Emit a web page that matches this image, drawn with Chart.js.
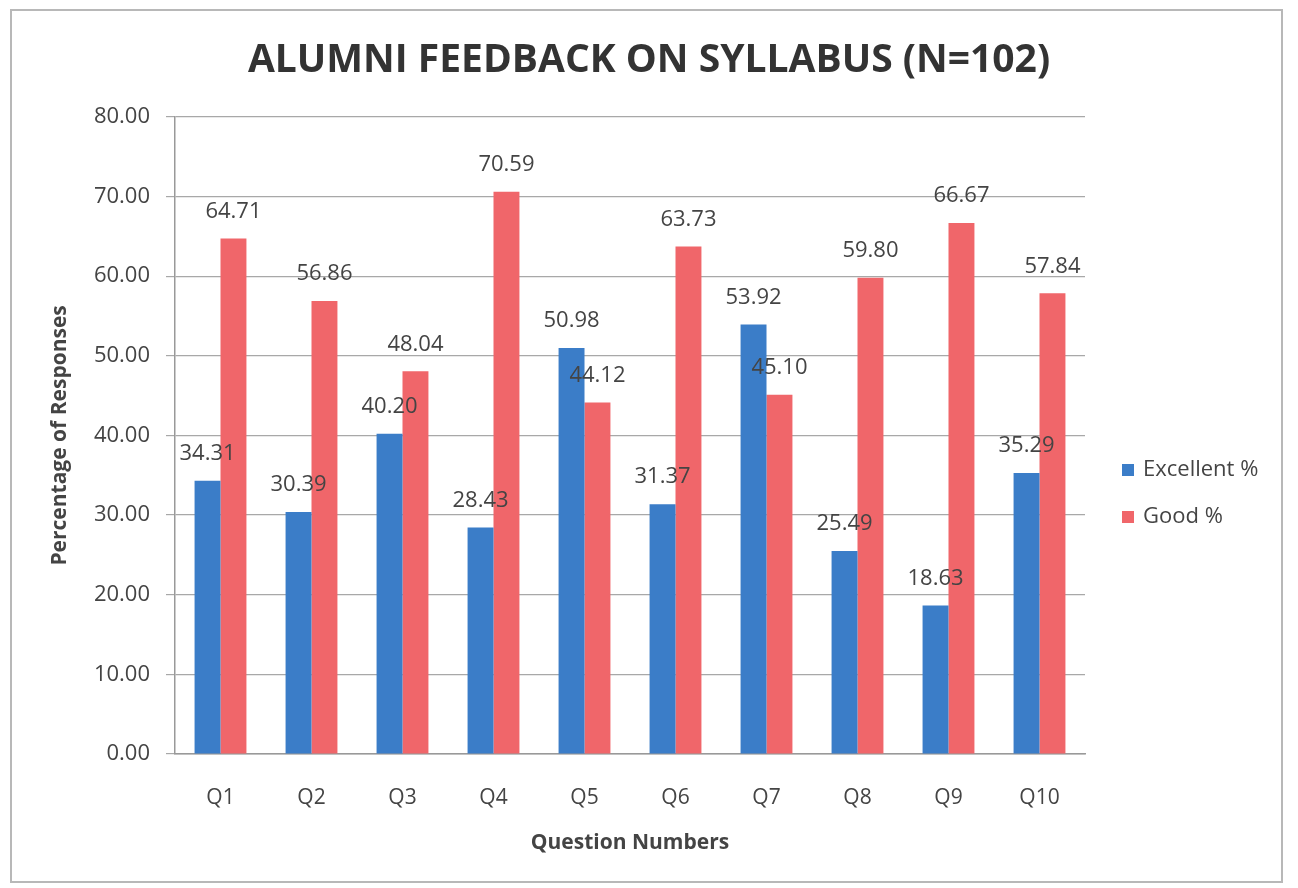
<!DOCTYPE html>
<html lang="en">
<head>
<meta charset="UTF-8">
<title>Alumni Feedback on Syllabus</title>
<script src="https://cdn.jsdelivr.net/npm/chart.js"></script>
<style>
	html, body {
		margin: 0;
		padding: 0;
		background: #fff;
	}
	.frame {
		position: absolute;
		left: 10px;
		top: 9px;
		width: 1273px;
		height: 874px;
		border: 2px solid #b8b8b8;
		box-sizing: border-box;
	}
	.wrap {
		position: absolute;
		left: 0;
		top: 0;
		width: 1298px;
		height: 888px;
	}
</style>
</head>
<body>
<div class="frame"></div>
<div class="wrap"><canvas id="feedbackChart" width="1298" height="888"></canvas></div>

<script>
	const questions = ['Q1', 'Q2', 'Q3', 'Q4', 'Q5', 'Q6', 'Q7', 'Q8', 'Q9', 'Q10'];
	const excellentPct = [34.31, 30.39, 40.20, 28.43, 50.98, 31.37, 53.92, 25.49, 18.63, 35.29];
	const goodPct = [64.71, 56.86, 48.04, 70.59, 44.12, 63.73, 45.10, 59.80, 66.67, 57.84];
	const seriesNames = ['Excellent %', 'Good %'];

	const textColor = '#444';
	const fontName = "'Open Sans', sans-serif";

	// value labels above every bar
	const barLabels = {
		id: 'barLabels',
		afterDatasetsDraw(chart) {
			const ctx = chart.ctx;
			ctx.save();
			ctx.font = '22px ' + fontName;
			ctx.fillStyle = textColor;
			ctx.textAlign = 'center';
			ctx.textBaseline = 'middle';
			chart.data.datasets.forEach((ds, i) => {
				chart.getDatasetMeta(i).data.forEach((bar, j) => {
					ctx.fillText(ds.data[j].toFixed(2), bar.x, bar.y - 27);
				});
			});
			ctx.restore();
		}
	};

	// legend on the right, drawn by hand
	const sideLegend = {
		id: 'sideLegend',
		afterDraw(chart) {
			const ctx = chart.ctx;
			ctx.save();
			ctx.font = '22px ' + fontName;
			ctx.textBaseline = 'middle';
			chart.data.datasets.forEach((ds, i) => {
				const y = 470 + i * 47;
				ctx.fillStyle = ds.backgroundColor;
				ctx.fillRect(1122, y - 6, 12, 12);
				ctx.fillStyle = textColor;
				ctx.fillText(ds.label, 1143, y);
			});
			ctx.restore();
		}
	};

	new Chart(document.getElementById('feedbackChart'), {
		type: 'bar',
		data: {
			labels: questions,
			datasets: [{
				label: seriesNames[0],
				data: excellentPct,
				backgroundColor: '#3b7dc8',
				categoryPercentage: 0.57,
				barPercentage: 1.0
			}, {
				label: seriesNames[1],
				data: goodPct,
				backgroundColor: '#f0666a',
				categoryPercentage: 0.57,
				barPercentage: 1.0
			}]
		},
		options: {
			responsive: false,
			animation: false,
			layout: {
				padding: 0
			},
			plugins: {
				legend: {display: false},
				tooltip: {enabled: false},
				title: {
					display: true,
					text: 'ALUMNI FEEDBACK ON SYLLABUS (N=102)',
					color: '#333',
					font: {family: fontName, size: 39, weight: 'bold'},
					padding: {top: 37, bottom: 33}
				}
			},
			scales: {
				x: {
					grid: {display: false, drawTicks: false},
					border: {color: '#999', width: 1.5},
					ticks: {
						color: textColor,
						font: {family: fontName, size: 21},
						padding: 31
					},
					title: {
						display: true,
						text: 'Question Numbers',
						color: textColor,
						font: {family: fontName, size: 21, weight: 'bold'},
						padding: {top: 0, bottom: 32}
					},
					afterFit(scale) {
						scale.height = 134;
					}
				},
				y: {
					min: 0,
					max: 80,
					grid: {color: '#a8a8a8', lineWidth: 1.2, tickLength: 9},
					border: {color: '#999', width: 1.5},
					ticks: {
						stepSize: 10,
						color: textColor,
						font: {family: fontName, size: 22},
						padding: 16,
						callback: v => v.toFixed(2)
					},
					title: {
						display: true,
						text: 'Percentage of Responses',
						color: textColor,
						font: {family: fontName, size: 21, weight: 'bold'},
						padding: {top: 47, bottom: 0}
					},
					afterFit(scale) {
						scale.width = 175;
					}
				},
				// empty right-hand axis that only reserves room for the legend
				legendSpace: {
					type: 'linear',
					position: 'right',
					display: true,
					grid: {display: false, drawTicks: false},
					border: {display: false},
					ticks: {display: false},
					afterFit(scale) {
						scale.width = 213;
					}
				}
			}
		},
		plugins: [barLabels, sideLegend]
	});
</script>
</body>
</html>
